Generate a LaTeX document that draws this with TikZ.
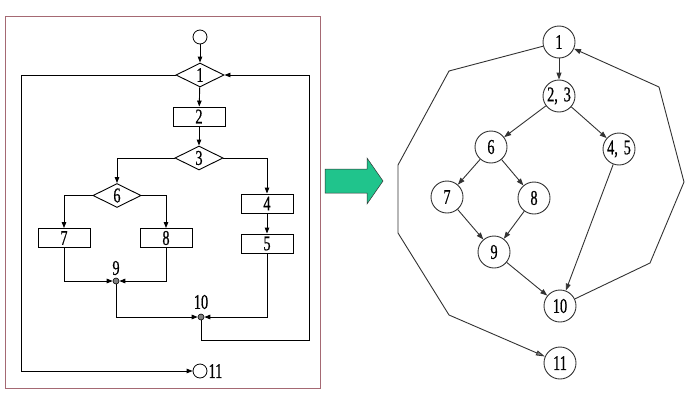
\documentclass[tikz,border=0pt]{standalone}
\usepackage{fontspec}
\newfontfamily\numfont[FakeStretch=0.68,FakeBold=0.6]{Liberation Serif}
\usetikzlibrary{shapes.geometric,arrows.meta}
\definecolor{framec}{RGB}{165,105,115}
\definecolor{arrowgreen}{RGB}{32,196,140}
\definecolor{edgegray}{RGB}{50,50,50}
\tikzset{
  every node/.style={font=\numfont\fontsize{21}{21}\selectfont},
  arr/.style={draw=black, line width=0.9pt, -{Triangle[length=6pt,width=4.5pt]}},
  dia/.style={diamond, draw, line width=0.9pt, inner sep=0pt, minimum width=48pt, minimum height=24pt},
  box/.style={rectangle, draw, line width=0.9pt, inner sep=0pt, minimum width=52pt, minimum height=19pt},
  term/.style={circle, draw, line width=0.8pt, inner sep=0pt, minimum size=14pt},
  dot/.style={circle, draw, fill=gray, line width=0.6pt, inner sep=0pt, minimum size=6pt},
  cn/.style={circle, draw=edgegray, line width=0.9pt, inner sep=0pt, minimum size=32pt},
  rarr/.style={draw=edgegray, line width=0.9pt, -{Triangle[length=7pt,width=5pt]}},
}
\begin{document}
\begin{tikzpicture}[x=1pt,y=-1pt]
\useasboundingbox (0,0) rectangle (692,415);
% frame
\draw[framec, line width=0.8pt] (5,16) rectangle (320,388);
% left flow chart
\node[term] (s) at (200,37) {};
\node[dia] (d1) at (200,75) {1};
\node[box] (b2) at (199,116.5) {2};
\node[dia] (d3) at (199,158) {3};
\node[dia] (d6) at (117,195.5) {6};
\node[box] (b7) at (64,238) {7};
\node[box] (b8) at (166,238) {8};
\node[box] (b4) at (267,203.5) {4};
\node[box] (b5) at (267,243.5) {5};
\node[dot] (n9) at (116,281) {};
\node (l9) at (116,268) {9};
\node[dot] (n10) at (201,317) {};
\node (l10) at (201,302) {10};
\node[term] (e11) at (200,371) {};
\node[anchor=west, inner sep=1pt] (l11) at (e11.east) {11};
\coordinate (r1) at (309,340);
\coordinate (lft) at (21,371);
\draw[arr] (s) -- (d1);
\draw[arr] (d1) -- (b2);
\draw[arr] (b2) -- (d3);
\draw[arr] (d3.west) -| (d6.north);
\draw[arr] (d3.east) -| (b4.north);
\draw[arr] (d6.west) -| (b7.north);
\draw[arr] (d6.east) -| (b8.north);
\draw[arr] (b4) -- (b5);
\draw[arr] (b7.south) |- (n9);
\draw[arr] (b8.south) |- (n9);
\draw[arr] (n9) |- (n10);
\draw[arr] (b5.south) |- (n10);
\draw[arr] (n10) |- (r1) |- (d1.east);
\draw[arr] (d1.west) -| (lft) -- (e11);
% green arrow
\draw[draw=edgegray, line width=0.5pt, fill=arrowgreen]
  (325,169) -- (367,169) -- (367,158) -- (383,181) -- (367,204) -- (367,193) -- (325,193) -- cycle;
% right flow graph
\node[cn] (c1) at (559,42) {1};
\node[cn] (c23) at (559,96) {2,\;3};
\node[cn] (c6) at (491,147) {6};
\node[cn] (c45) at (619,149) {4,\;5};
\node[cn] (c7) at (447,197) {7};
\node[cn] (c8) at (534,198) {8};
\node[cn] (c9) at (494,252) {9};
\node[cn] (c10) at (560,306) {10};
\node[cn] (c11) at (560,363) {11};
\coordinate (p1) at (650,263);
\coordinate (p2) at (684,182);
\coordinate (p3) at (659,87);
\coordinate (q1) at (449,71);
\coordinate (q2) at (398,165);
\coordinate (q3) at (398,233);
\coordinate (q4) at (449,315);
\draw[rarr] (c1) -- (c23);
\draw[rarr] (c23) -- (c6);
\draw[rarr] (c23) -- (c45);
\draw[rarr] (c6) -- (c7);
\draw[rarr] (c6) -- (c8);
\draw[rarr] (c7) -- (c9);
\draw[rarr] (c8) -- (c9);
\draw[rarr] (c9) -- (c10);
\draw[rarr] (c45) -- (c10);
\draw[rarr] (c10) -- (p1) -- (p2) -- (p3) -- (c1);
\draw[rarr, -{Triangle[length=9pt,width=5pt,fill=gray]}] (c1) -- (q1) -- (q2) -- (q3) -- (q4) -- (c11);
\end{tikzpicture}
\end{document}
